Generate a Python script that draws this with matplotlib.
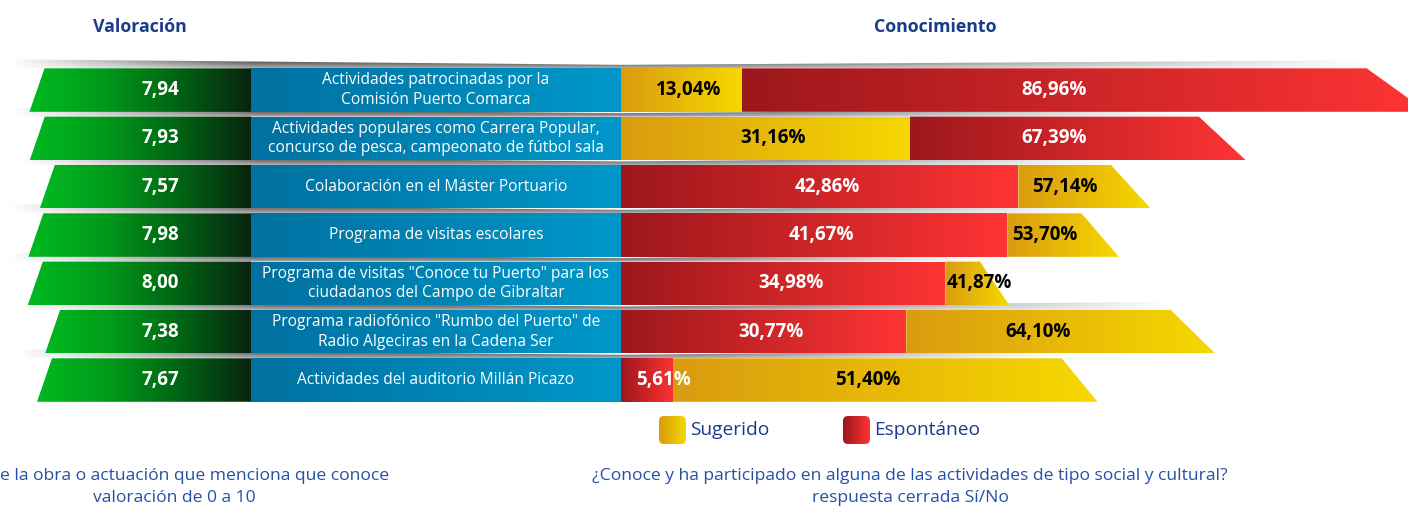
import numpy as np
import matplotlib.pyplot as plt
from matplotlib.patches import Polygon, FancyBboxPatch
from matplotlib.colors import LinearSegmentedColormap

# ---- data ----
actividades = [
    "Actividades patrocinadas por la\nComisión Puerto Comarca",
    "Actividades populares como Carrera Popular,\nconcurso de pesca, campeonato de fútbol sala",
    "Colaboración en el Máster Portuario",
    "Programa de visitas escolares",
    "Programa de visitas \"Conoce tu Puerto\" para los\nciudadanos del Campo de Gibraltar",
    "Programa radiofónico \"Rumbo del Puerto\" de\nRadio Algeciras en la Cadena Ser",
    "Actividades del auditorio Millán Picazo",
]
valoracion = [7.94, 7.93, 7.57, 7.98, 8.00, 7.38, 7.67]
# first segment (drawn from 0) and cumulative total (end of the bar)
primer_valor = [13.04, 31.16, 42.86, 41.67, 34.98, 30.77, 5.61]
total_valor = [86.96, 67.39, 57.14, 53.70, 41.87, 64.10, 51.40]
primer_tipo = ["Sugerido", "Sugerido", "Espontáneo", "Espontáneo",
               "Espontáneo", "Espontáneo", "Espontáneo"]

def fmt(v, dec=2):
    return f"{v:.{dec}f}".replace(".", ",")

# ---- style ----
FONT = "Open Sans"
NAVY = "#1b3a8c"
BLUE_TXT = "#2650a6"
GREEN = ("#00ba20", "#009a1a", "#006414", "#08240f")
LBLUE = ("#0070a0", "#0098c9")
COLORS = {"Sugerido": ("#d99b10", "#f6d800"), "Espontáneo": ("#9c171c", "#ff3434")}
TEXTC = {"Sugerido": "black", "Espontáneo": "white"}
H = 0.90          # bar height in row units
TAPER = 0.925     # top edge of the bar end is shorter -> slanted end
PCT_FS = 13.5

W, Hpx = 1408, 507
fig = plt.figure(figsize=(W / 100, Hpx / 100), dpi=100)

# background axes in pixel coordinates (titles, shadows, legend)
ax_bg = fig.add_axes([0, 0, 1, 1], zorder=0)
ax_bg.axis("off")

y_bot, y_h = 1 - 404.2 / Hpx, 338.3 / Hpx
ax_val = fig.add_axes([0, y_bot, 251 / W, y_h], zorder=1)
ax_lab = fig.add_axes([251 / W, y_bot, 370 / W, y_h], zorder=1)
ax_con = fig.add_axes([621 / W, y_bot, 787 / W, y_h], zorder=1)
VAL_MAX = 251 / 27.9
CON_MAX = 787 / 9.27


def set_limits():
    ax_val.set_xlim(VAL_MAX, 0)
    ax_lab.set_xlim(0, 1)
    ax_con.set_xlim(0, CON_MAX)
    for a in (ax_val, ax_lab, ax_con):
        a.set_ylim(6.5, -0.5)
    ax_bg.set_xlim(0, W)
    ax_bg.set_ylim(Hpx, 0)


set_limits()
for a in (ax_val, ax_lab, ax_con):
    a.axis("off")
    a.patch.set_visible(False)

SLANT_V = 15 / 27.9


def gradient_fill(ax, verts, colors, x0, x1, zorder=2):
    poly = Polygon(verts, closed=True, facecolor="none", edgecolor="none")
    ax.add_patch(poly)
    ys = [v[1] for v in verts]
    cmap = LinearSegmentedColormap.from_list("g", list(colors))
    img = ax.imshow(np.linspace(0, 1, 256).reshape(1, -1), cmap=cmap,
                    extent=[x0, x1, max(ys), min(ys)], aspect="auto",
                    interpolation="bilinear", zorder=zorder)
    img.set_clip_path(poly)
    return img


def to_px(ax, x, y):
    d = ax.transData.transform((x, y))
    return ax_bg.transData.inverted().transform(d)


# ---- shadows above each row ----
for i in range(len(valoracion)):
    top = i - H / 2
    xl, yt = to_px(ax_val, valoracion[i] - SLANT_V, top)
    xr, _ = to_px(ax_con, TAPER * total_valor[i], top)
    xm, _ = to_px(ax_con, 0, top)
    xl -= 35
    nx, ny = 400, 20
    xs = np.linspace(xl, xr, nx)
    alpha_x = np.interp(xs, [xl, xl + 0.4 * (xm - xl), xm, xm + 0.3 * (xr - xm), xr],
                        [0.0, 0.95, 1.0, 0.75, 0.0])
    alpha_y = np.linspace(1.0, 0.3, ny)[:, None] ** 0.7
    rgba = np.zeros((ny, nx, 4))
    rgba[..., :3] = 0.22
    rgba[..., 3] = alpha_y * alpha_x[None, :]
    verts = [(xl, yt - 9), (xm, yt - 3.5), (xr, yt - 8), (xr, yt), (xl, yt)]
    poly = Polygon(verts, closed=True, facecolor="none", edgecolor="none")
    ax_bg.add_patch(poly)
    img = ax_bg.imshow(rgba, extent=[xl, xr, yt, yt - 9], aspect="auto",
                       interpolation="bilinear", zorder=1)
    img.set_clip_path(poly)

# ---- rows ----
for i, (lab, v, p, t, tipo) in enumerate(zip(actividades, valoracion, primer_valor,
                                              total_valor, primer_tipo)):
    top, bot = i - H / 2, i + H / 2

    # green valuation parallelogram
    gradient_fill(ax_val, [(v, bot), (v - SLANT_V, top), (0, top), (0, bot)],
                  GREEN, v, 0)
    ax_val.text(VAL_MAX - 160 / 27.9, i, fmt(v), color="white", fontsize=13.5,
                fontweight="bold", family=FONT, ha="center", va="center", zorder=5)

    # blue label box
    gradient_fill(ax_lab, [(0, bot), (0, top), (1, top), (1, bot)], LBLUE, 0, 1)
    ax_lab.text(0.5, i, lab, color="white", fontsize=11.2, family=FONT,
                ha="center", va="center", linespacing=1.3, zorder=5)

    # stacked bar: second segment (to cumulative total, slanted end), first segment on top
    otro = "Espontáneo" if tipo == "Sugerido" else "Sugerido"
    gradient_fill(ax_con, [(p, bot), (p, top), (TAPER * t, top), (t, bot)],
                  COLORS[otro], p, t)
    gradient_fill(ax_con, [(0, bot), (0, top), (p, top), (p, bot)],
                  COLORS[tipo], 0, p, zorder=3)

    # labels
    txt_w = 7.0
    if p < txt_w:
        ax_con.text(1.6, i, fmt(p) + "%", color=TEXTC[tipo], fontsize=PCT_FS,
                    fontweight="bold", family=FONT, ha="left", va="center", zorder=6)
    else:
        ax_con.text(p / 2 + 0.8, i, fmt(p) + "%", color=TEXTC[tipo], fontsize=PCT_FS,
                    fontweight="bold", family=FONT, ha="center", va="center", zorder=6)
    seg_end = min((TAPER * t + t) / 2, CON_MAX)
    if seg_end - p < txt_w:
        ax_con.text(p + 0.2, i, fmt(t) + "%", color=TEXTC[otro], fontsize=PCT_FS,
                    fontweight="bold", family=FONT, ha="left", va="center", zorder=6)
    else:
        ax_con.text((p + TAPER * t) / 2, i, fmt(t) + "%", color=TEXTC[otro], fontsize=PCT_FS,
                    fontweight="bold", family=FONT, ha="center", va="center", zorder=6)

# ---- titles ----
ax_bg.text(140, 27, "Valoración", color=NAVY, fontsize=12.8, fontweight="bold",
           family=FONT, ha="center", va="center")
ax_bg.text(935, 27, "Conocimiento", color=NAVY, fontsize=12.8, fontweight="bold",
           family=FONT, ha="center", va="center")

# ---- legend ----
for x0, tipo in [(659, "Sugerido"), (843, "Espontáneo")]:
    sw = FancyBboxPatch((x0, 416), 27, 28, boxstyle="round,pad=0,rounding_size=5",
                        facecolor="none", edgecolor="none")
    ax_bg.add_patch(sw)
    cmap = LinearSegmentedColormap.from_list("s", COLORS[tipo])
    img = ax_bg.imshow(np.linspace(0, 1, 64).reshape(1, -1), cmap=cmap,
                       extent=[x0, x0 + 27, 444, 416], aspect="auto", zorder=2)
    img.set_clip_path(sw)
    ax_bg.text(x0 + 31, 430, tipo, color=NAVY, fontsize=13.8, family=FONT,
               ha="left", va="center")

# ---- footnotes ----
ax_bg.text(0, 476, "e la obra o actuación que menciona que conoce", color=BLUE_TXT,
           fontsize=12.6, family=FONT, ha="left", va="center")
ax_bg.text(174, 498, "valoración de 0 a 10", color=BLUE_TXT,
           fontsize=12.6, family=FONT, ha="center", va="center")
ax_bg.text(910, 476, "¿Conoce y ha participado en alguna de las actividades de tipo social y cultural?",
           color=BLUE_TXT, fontsize=12.6, family=FONT, ha="center", va="center")
ax_bg.text(910, 498, "respuesta cerrada Sí/No", color=BLUE_TXT,
           fontsize=12.6, family=FONT, ha="center", va="center")

set_limits()
fig.savefig("out.png", dpi=100)
plt.close(fig)
